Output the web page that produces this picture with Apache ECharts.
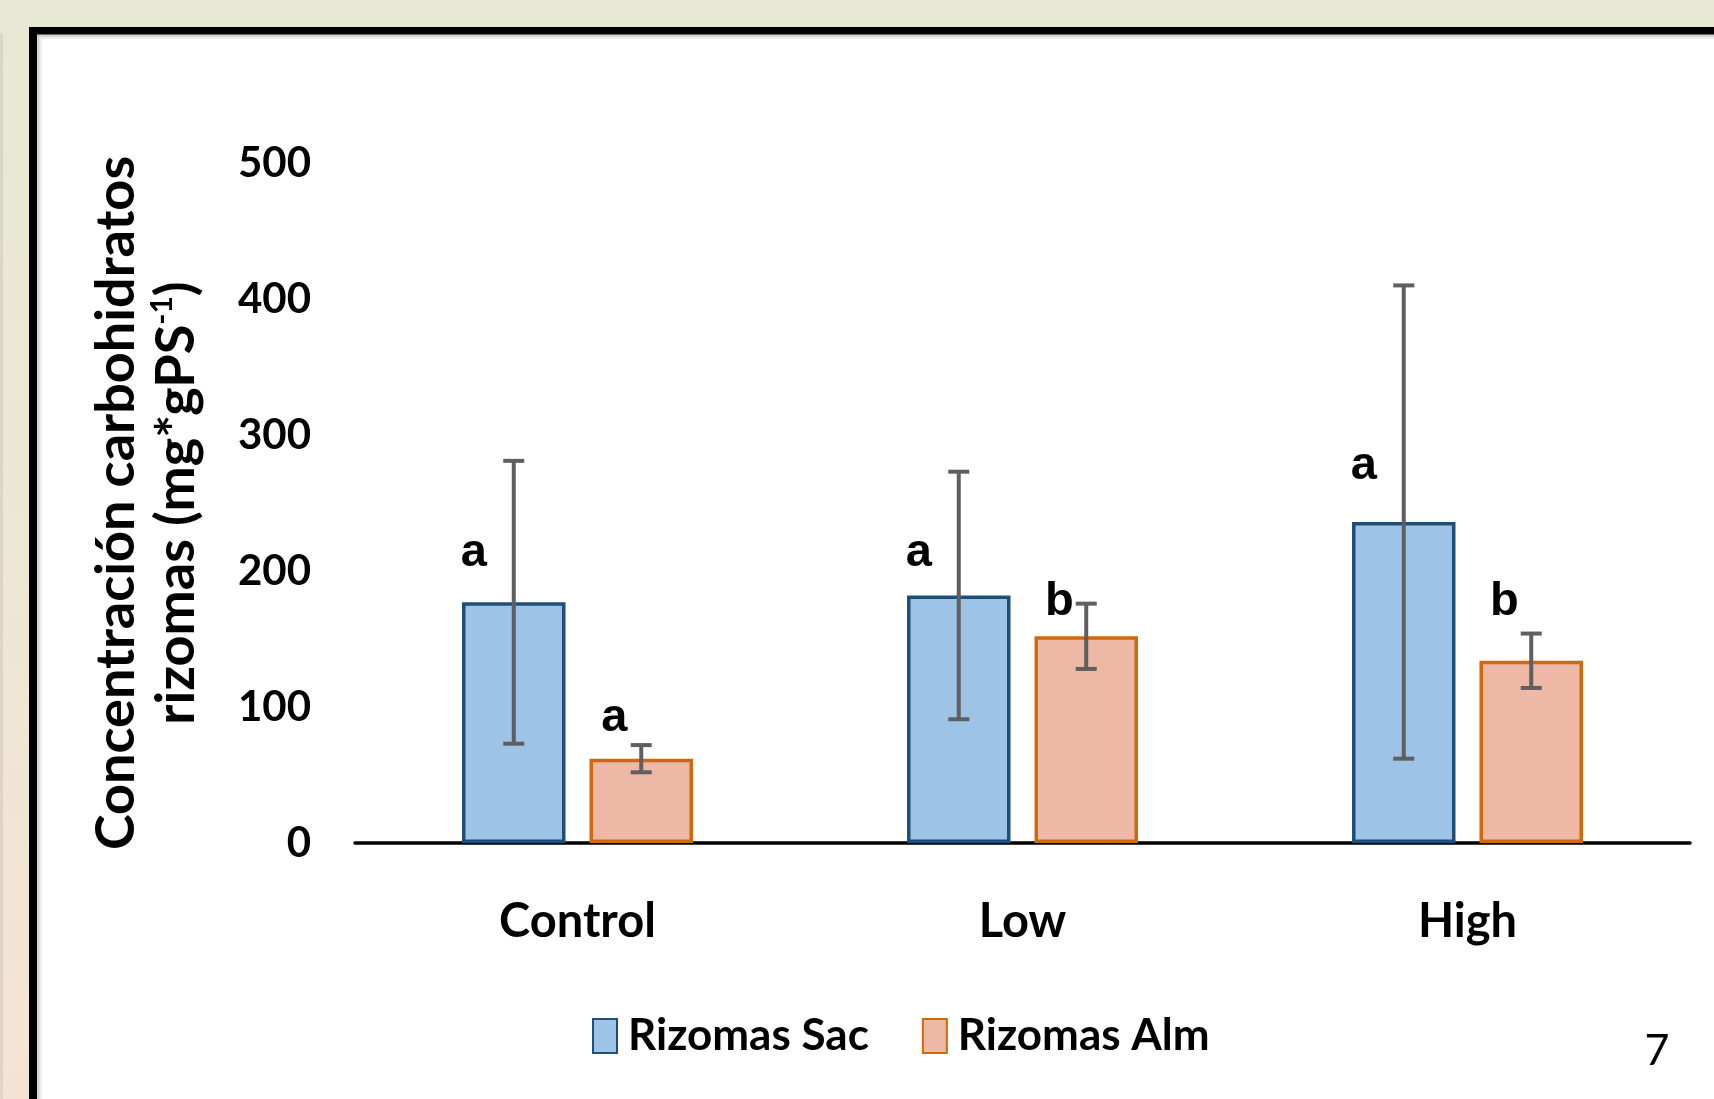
<!DOCTYPE html>
<html>
<head>
<meta charset="utf-8">
<style>html,body{margin:0;padding:0;background:#E7E8D3;}#chart{width:1714px;height:1099px;}</style>
<script src="https://cdn.jsdelivr.net/npm/echarts@6/dist/echarts.min.js"></script>
</head>
<body>
<div id="chart"></div>
<script>
// ---- data ----
const categories = ['Control', 'Low', 'High'];
const seriesNames = ['Rizomas Sac', 'Rizomas Alm'];
const sacValues = [177, 182, 236];
const sacErrors = [104, 91, 174];
const almValues = [62, 152, 134];
const almErrors = [10, 24, 20];
const sacLetters = ['a', 'a', 'a'];
const almLetters = ['a', 'b', 'b'];
const sacLetterY = [213, 213, 277];
const almLetterY = [92, 177, 177];
const yTicks = [0, 100, 200, 300, 400, 500];
const pageNumber = '7';

const CAT_GAP = 0.481, BAR_GAP = 0.232;

function errorSeries(name, values, errors, letters, letterY, side, letterDx) {
  return {
    type: 'custom',
    name: name,
    z: 5,
    data: categories.map((c, i) => [i, values[i] + errors[i], values[i] - errors[i]]),
    encode: { x: 0, y: [1, 2] },
    renderItem: function (params, api) {
      const i = params.dataIndex;
      const band = api.size([1, 0])[0];
      const bw = band * (1 - CAT_GAP) / (2 + BAR_GAP);
      const off = side * (bw + bw * BAR_GAP) / 2;
      const top = api.coord([api.value(0), api.value(1)]);
      const bot = api.coord([api.value(0), api.value(2)]);
      const lab = api.coord([api.value(0), letterY[i]]);
      const x = top[0] + off;
      const cap = 10.5;
      const ls = { stroke: '#5f5f5f', lineWidth: 4 };
      return {
        type: 'group',
        children: [
          { type: 'line', shape: { x1: x, y1: top[1], x2: x, y2: bot[1] }, style: ls },
          { type: 'line', shape: { x1: x - cap, y1: top[1], x2: x + cap, y2: top[1] }, style: ls },
          { type: 'line', shape: { x1: x - cap, y1: bot[1], x2: x + cap, y2: bot[1] }, style: ls },
          { type: 'text', x: x + letterDx, y: lab[1],
            style: { text: letters[i], fill: '#000', fontFamily: 'Liberation Sans, Arial, sans-serif',
                     fontWeight: 'bold', fontSize: 47, align: 'center', verticalAlign: 'middle' } }
        ]
      };
    }
  };
}

const chart = echarts.init(document.getElementById('chart'), null, { renderer: 'canvas' });
const option = {
  backgroundColor: '#E7E8D3',
  animation: false,
  graphic: [
    { type: 'rect', z: -10, shape: { x: 0, y: 0, width: 1714, height: 1099 },
      style: { fill: new echarts.graphic.LinearGradient(0, 0, 0, 1, [
        { offset: 0, color: '#E7E8D3' }, { offset: 0.45, color: '#ECE7D5' }, { offset: 1, color: '#F4E3D5' }]) } },
    { type: 'rect', z: -9, shape: { x: 0, y: 34, width: 3, height: 1065 }, style: { fill: 'rgba(0,0,0,0.07)' } },
    { type: 'rect', z: -8, shape: { x: 29, y: 27, width: 2000, height: 2000 }, style: { fill: '#000' } },
    { type: 'rect', z: -7, shape: { x: 37, y: 34.5, width: 2000, height: 2000 }, style: { fill: '#d4d4d4' } },
    { type: 'rect', z: -6, shape: { x: 39.5, y: 37, width: 2000, height: 2000 }, style: { fill: '#ebebeb' } },
    { type: 'rect', z: -5, shape: { x: 41.5, y: 39, width: 2000, height: 2000 }, style: { fill: '#ffffff' } },
    { type: 'text', z: 10, x: 1657, y: 1051,
      style: { text: pageNumber, fill: '#000', fontFamily: 'Lato, sans-serif', fontSize: 43,
               align: 'center', verticalAlign: 'middle' } }
  ],
  grid: { left: 355, right: 24, top: 163, bottom: 1099 - 843, containLabel: false },
  legend: {
    data: seriesNames,
    left: 587,
    top: 1009,
    icon: 'rect',
    itemWidth: 24,
    itemHeight: 34,
    itemGap: 53,
    textStyle: { fontFamily: 'Lato, sans-serif', fontWeight: 'bold', fontSize: 44, color: '#000',
                 padding: [0, 0, 0, 6] }
  },
  xAxis: {
    type: 'category',
    data: categories,
    axisLine: { show: true, lineStyle: { color: '#000', width: 3.5 } },
    axisTick: { show: false },
    axisLabel: { margin: 55, fontFamily: 'Lato, sans-serif', fontWeight: 'bold', fontSize: 47, color: '#000' },
    splitLine: { show: false }
  },
  yAxis: {
    type: 'value',
    min: yTicks[0],
    max: yTicks[yTicks.length - 1],
    interval: yTicks[1] - yTicks[0],
    axisLine: { show: false },
    axisTick: { show: false },
    splitLine: { show: false },
    axisLabel: { margin: 44, fontFamily: 'Lato, sans-serif', fontWeight: 'bold', fontSize: 42, color: '#000' },
    name: 'Concentración carbohidratos\nrizomas (mg*gPS{sup|-1})',
    nameLocation: 'middle',
    nameRotate: 90,
    nameGap: 148,
    nameTextStyle: {
      fontFamily: 'Lato, sans-serif', fontWeight: 'bold', fontSize: 54, color: '#000', lineHeight: 60,
      rich: { sup: { fontFamily: 'Lato, sans-serif', fontWeight: 'bold', fontSize: 30, color: '#000',
                     lineHeight: 36, verticalAlign: 'top' } }
    }
  },
  series: [
    { type: 'bar', name: seriesNames[0], data: sacValues, barCategoryGap: (CAT_GAP * 100) + '%', barGap: (BAR_GAP * 100) + '%',
      itemStyle: { color: '#9DC3E6', borderColor: '#1F4E79', borderWidth: 3.5 }, z: 2 },
    { type: 'bar', name: seriesNames[1], data: almValues, barCategoryGap: (CAT_GAP * 100) + '%', barGap: (BAR_GAP * 100) + '%',
      itemStyle: { color: '#EDB8A5', borderColor: '#D0680E', borderWidth: 3.5 }, z: 2 },
    errorSeries('errSac', sacValues, sacErrors, sacLetters, sacLetterY, -1, -40),
    errorSeries('errAlm', almValues, almErrors, almLetters, almLetterY, 1, -27)
  ]
};
chart.setOption(option);
</script>
</body>
</html>
